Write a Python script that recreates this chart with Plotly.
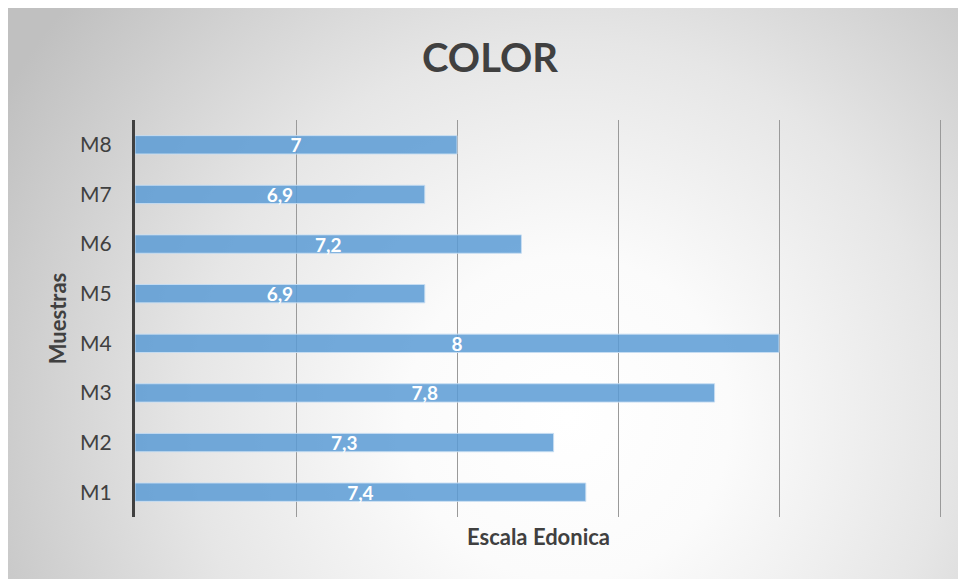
import base64
import plotly.graph_objects as go

categories = ["M1", "M2", "M3", "M4", "M5", "M6", "M7", "M8"]
values = [7.4, 7.3, 7.8, 8.0, 6.9, 7.2, 6.9, 7.0]
labels = [("%g" % v).replace(".", ",") for v in values]
axis_min = 6

# figure is placed at page offset (8, 8) by the body margin
OX, OY = 8, 8
W, H = 958, 571
px0, px1, py0, py1 = 135 - OX, 942 - OX, 120 - OY, 517 - OY
L, R, T, B = px0, W - px1, py0, H - py1
pw, ph = px1 - px0, py1 - py0
unit = 322.0  # pixels per scale unit
xmax = axis_min + pw / unit

svg = (
    '<svg xmlns="http://www.w3.org/2000/svg" width="958" height="571" preserveAspectRatio="none">'
    '<defs><radialGradient id="g" gradientUnits="userSpaceOnUse" cx="560" cy="410" r="650" fx="560" fy="410">'
    '<stop offset="0" stop-color="#ffffff"/>'
    '<stop offset="0.25" stop-color="#fbfbfb"/>'
    '<stop offset="0.58" stop-color="#e6e6e6"/>'
    '<stop offset="1" stop-color="#c0c0c0"/>'
    '</radialGradient></defs>'
    '<rect width="958" height="571" fill="url(#g)"/></svg>'
)
src = "data:image/svg+xml;base64," + base64.b64encode(svg.encode()).decode()

fig = go.Figure(
    go.Bar(
        y=categories,
        x=[v - axis_min for v in values],
        base=axis_min,
        orientation="h",
        width=0.37,
        marker=dict(color="rgba(91,155,213,0.85)", line=dict(color="rgba(200,222,243,0.9)", width=1)),
        text=labels,
        textposition="inside",
        insidetextanchor="middle",
        constraintext="none",
        textangle=0,
        textfont=dict(family="Lato", size=19, color="white", weight="bold"),
        cliponaxis=False,
        hoverinfo="skip",
    )
)

fig.update_layout(
    width=W,
    height=H,
    margin=dict(l=L, r=R, t=T, b=B),
    paper_bgcolor="#d0d0d0",
    plot_bgcolor="rgba(0,0,0,0)",
    showlegend=False,
    title=dict(
        text="<b>COLOR</b>",
        x=(490 - OX) / W,
        xref="container",
        xanchor="center",
        y=1 - (58 - OY) / H,
        yref="container",
        yanchor="middle",
        font=dict(family="Lato", size=40, color="#404040"),
    ),
    images=[
        dict(
            source=src,
            xref="paper",
            yref="paper",
            x=-px0 / pw,
            y=py1 / ph,
            sizex=W / pw,
            sizey=H / ph,
            sizing="stretch",
            xanchor="left",
            yanchor="top",
            layer="below",
        )
    ],
    xaxis=dict(
        range=[axis_min, xmax],
        dtick=0.5,
        tick0=axis_min,
        showticklabels=False,
        showgrid=True,
        gridcolor="#9a9a9a",
        gridwidth=1,
        zeroline=False,
        showline=False,
        title=dict(text="<b>Escala Edonica</b>", font=dict(family="Lato", size=22, color="#404040"), standoff=12),
    ),
    yaxis=dict(
        categoryorder="array",
        categoryarray=categories,
        showline=True,
        linecolor="#404040",
        linewidth=3,
        showgrid=False,
        ticks="",
        ticklabelstandoff=16,
        tickfont=dict(family="Lato", size=21, color="#404040"),
        title=dict(text="<b>Muestras</b>", font=dict(family="Lato", size=22, color="#404040"), standoff=8),
    ),
)

fig.write_html(
    "out.html",
    post_script=(
        "document.documentElement.style.overflow='hidden';"
        "document.body.style.overflow='hidden';"
        "document.body.style.width='980px';"
        "document.querySelectorAll('div').forEach(function(d){d.style.overflow='visible';});"
    ),
)
